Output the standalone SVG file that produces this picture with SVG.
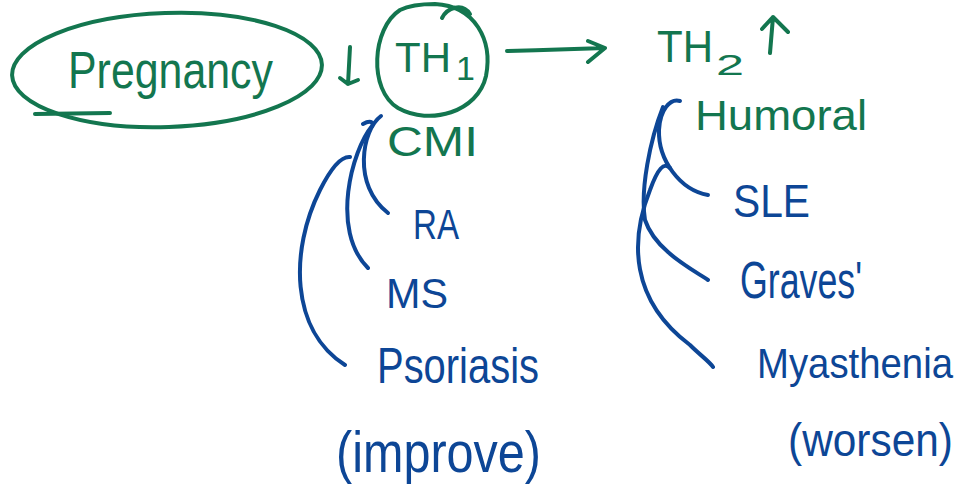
<svg xmlns="http://www.w3.org/2000/svg" width="973" height="497" viewBox="0 0 973 497">
<style>
.g{fill:#13764f;font-family:"Liberation Sans","DejaVu Sans",sans-serif}
.b{fill:#0d4696;font-family:"Liberation Sans","DejaVu Sans",sans-serif}
.sg{fill:none;stroke:#13764f;stroke-width:4;stroke-linecap:round;stroke-linejoin:round}
.sb{fill:none;stroke:#0d4696;stroke-width:4;stroke-linecap:round;stroke-linejoin:round}
</style>
<rect width="973" height="497" fill="#ffffff"/>
<g id="pregnancy">
<ellipse class="sg" cx="167" cy="70" rx="155" ry="57" transform="rotate(-2 167 70)"/>
<path class="sg" d="M110,113 L35,114"/>
<text class="g" x="68" y="88" font-size="52" textLength="205" lengthAdjust="spacingAndGlyphs">Pregnancy</text>
</g>
<g id="th1">
<path class="sg" d="M442,18 C447,8 462,2 470,14 M400,10 C372,28 368,90 398,108 C430,126 478,112 486,76 C493,40 475,6 435,4 C420,4 408,6 400,10"/>
<text class="g" x="395" y="72" font-size="42" textLength="56" lengthAdjust="spacingAndGlyphs">TH</text>
<text class="g" x="456" y="80" font-size="34">1</text>
</g>
<g id="th2">
<text class="g" x="657" y="62" font-size="44" textLength="56" lengthAdjust="spacingAndGlyphs">TH</text>
<text class="g" x="716" y="75" font-size="30" textLength="28" lengthAdjust="spacingAndGlyphs">2</text>
</g>
<g id="cmi"><text class="g" x="387" y="156" font-size="42" textLength="91" lengthAdjust="spacingAndGlyphs">CMI</text></g>
<g id="humoral"><text class="g" x="695" y="130" font-size="42" textLength="172" lengthAdjust="spacingAndGlyphs">Humoral</text></g>
<g id="ra"><text class="b" x="413" y="239" font-size="42" textLength="46" lengthAdjust="spacingAndGlyphs">RA</text></g>
<g id="ms"><text class="b" x="386" y="308" font-size="42" textLength="62" lengthAdjust="spacingAndGlyphs">MS</text></g>
<g id="psoriasis"><text class="b" x="377" y="383" font-size="50" textLength="162" lengthAdjust="spacingAndGlyphs">Psoriasis</text>
<text class="b" x="336" y="472" font-size="58" textLength="205" lengthAdjust="spacingAndGlyphs">(improve)</text></g>
<g id="sle"><text class="b" x="733" y="217" font-size="46" textLength="77" lengthAdjust="spacingAndGlyphs">SLE</text></g>
<g id="graves"><text class="b" x="740" y="298" font-size="52" textLength="122" lengthAdjust="spacingAndGlyphs">Graves'</text></g>
<g id="myasthenia"><text class="b" x="757" y="378" font-size="42" textLength="196" lengthAdjust="spacingAndGlyphs">Myasthenia</text>
<text class="b" x="788" y="456" font-size="46" textLength="165" lengthAdjust="spacingAndGlyphs">(worsen)</text></g>
<g id="connectors">
<path class="sg" d="M350,47 L348,84 M340,78 L348,84 L358,80"/>
<path class="sg" d="M507,51 C540,50 575,49 605,48 M588,41 L605,48 L588,62"/>
<path class="sg" d="M770,53 L773,17 M762,29 L773,17 L788,32"/>
<path class="sb" d="M381,116 C362,130 352,185 388,213"/>
<path class="sb" d="M363,124 C370,120 374,122 372,126 C352,150 330,230 368,268"/>
<path class="sb" d="M350,157 C340,156 330,170 320,190 C290,250 290,330 345,365"/>
<path class="sb" d="M680,101 C670,98 660,110 659,130 C658,160 680,190 708,195"/>
<path class="sb" d="M663,107 C650,140 640,190 645,220 C655,250 690,268 708,280"/>
<path class="sb" d="M670,168 C664,162 658,168 650,190 C630,240 630,300 690,345 C700,355 710,362 713,367"/>
</g>
</svg>
